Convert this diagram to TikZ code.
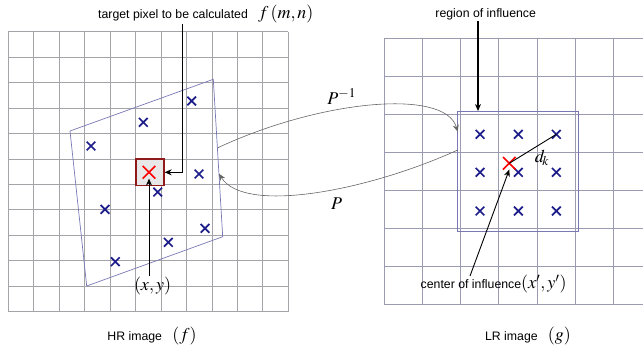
\documentclass[tikz,border=0pt]{standalone}
\usepackage{mathptmx}
\usepackage[no-math]{fontspec}
\setmainfont{Liberation Sans}
\usetikzlibrary{arrows.meta,calc,shapes.misc}
\definecolor{navy}{HTML}{1C1C8A}
\definecolor{hrgray}{HTML}{A4A4A8}
\definecolor{lrgray}{HTML}{9A9AB0}
\definecolor{quadblue}{HTML}{7878B4}
\definecolor{boxred}{HTML}{8E1A1A}
\newcommand{\mfont}{\fontsize{18}{20}\selectfont}
\tikzset{
    gridline/.style={hrgray, line width=0.8pt},
    bx/.style={cross out, draw=navy, line width=1.7pt, minimum size=7pt, inner sep=0pt},
    rx/.style={cross out, draw=red, line width=1.6pt, minimum size=11pt, inner sep=0pt},
    arr/.style={-{Stealth[length=7pt,width=6pt]}, line width=0.9pt},
    thinarr/.style={-{Stealth[length=7pt,width=6pt]}, gray!80!black, line width=0.6pt},
    lbl/.style={font=\fontsize{12.3}{14}\selectfont, inner sep=1pt},
    mth/.style={font=\mfont, inner sep=1pt}
}
\begin{document}
\begin{tikzpicture}[x=1pt,y=-1pt]
            \useasboundingbox (0,0) rectangle (643,353);
            % HR grid
            \foreach \i in {0,...,11}{
                \draw[gridline] ({8.3+\i*25.45},31.7) -- ++(0,280);
                \draw[gridline] (8.3,{31.7+\i*25.45}) -- ++(280,0);
            }
            % LR grid
            \foreach \i in {0,...,6}
                \draw[gridline, lrgray] ({384.3+\i*38.15},38.3) -- ++(0,266.4);
            \foreach \j in {0,...,7}
                \draw[gridline, lrgray] (384.3,{38.3+\j*38.06}) -- (643,{38.3+\j*38.06});
            % warped region
            \coordinate (q1) at (213.3,79.3);
            \coordinate (q2) at (70,131);
            \coordinate (q3) at (86.7,286);
            \coordinate (q4) at (222.7,236.7);
            \draw[quadblue, line width=0.7pt] (q1) -- (q2) -- (q3) -- (q4) -- cycle;
            \foreach \p [count=\k] in {(191.7,101),(143.3,122.3),(91,146),(199,174),(105,209.3),
                (157.7,192),(205,228.3),(168.3,242.3),(115.3,261.7)}
                \node[bx] (h\k) at \p {};
            \node[draw=boxred, fill=gray!18, line width=1.3pt, minimum width=28pt,
                minimum height=26.5pt, inner sep=0pt] (tp) at (150,172.3) {};
            \node[rx] (rc) at (149,172.3) {};
            % region of influence
            \node[draw=quadblue, line width=0.7pt, minimum width=120.6pt, minimum height=119.3pt,
                inner sep=0pt] (rb) at (518,171.35) {};
            \foreach \p [count=\k] in {(480,134.3),(518.3,134.3),(556.3,134.3),(480,172.3),(518.3,172.3),
                (556.3,172.3),(480,211),(518.3,211),(556.3,211)}
                \node[bx] (l\k) at \p {};
            \node[rx] (cc) at (509.3,163.3) {};
            \draw[line width=0.9pt] (cc.center) -- (l3.center);
            \node[mth] (dk) at (542,158) {$d_{\!k}$};
            % labels
            \node[lbl, anchor=west] (tgt) at (97,14) {target pixel to be calculated\ \ \ {\mfont$f\,(m,n)$}};
            \coordinate (tk) at (182.3,172.3);
            \draw[arr] (tgt.south -| tk) -- (tk) -- (tp.east);
            \node[mth] (xy) at (152.5,286) {$(x,y)$};
            \draw[arr] (xy.north -| rc) -- (rc.south);
            \node[lbl] (roi) at (485.7,14) {region of influence};
            \coordinate (rt) at (478,111);
            \draw[arr, line width=1.4pt] (roi.south -| rt) -- (rt);
            \node[lbl, anchor=west, inner sep=0pt] (cof) at (420.5,284) {center of influence{\mfont$(x',y')$}};
            \coordinate (cs) at (470,276);
            \draw[arr] (cs) -- (cc.south);
            % mappings
            \coordinate (pa) at ($(q1)!0.436!(q4)$);
            \coordinate (pb) at ($(q1)!0.60!(q4)$);
            \coordinate (pc) at (457.7,131.7);
            \coordinate (pd) at (457.7,150);
            \draw[thinarr] (pa) .. controls (320,100) and (445,88) .. (pc);
            \draw[thinarr] (pd) .. controls (370,190) and (245,215) .. (pb);
            \node[mth] (pinv) at (341.7,96.7) {$P^{-1}$};
            \node[mth] (pfw) at (336.7,203.3) {$P$};
            \node[lbl] (hr) at (152,336) {HR image\ \ \ {\mfont$(f)$}};
            \node[lbl] (lr) at (528,336) {LR image\ \ \ {\mfont$(g)$}};
        \end{tikzpicture}
\end{document}
